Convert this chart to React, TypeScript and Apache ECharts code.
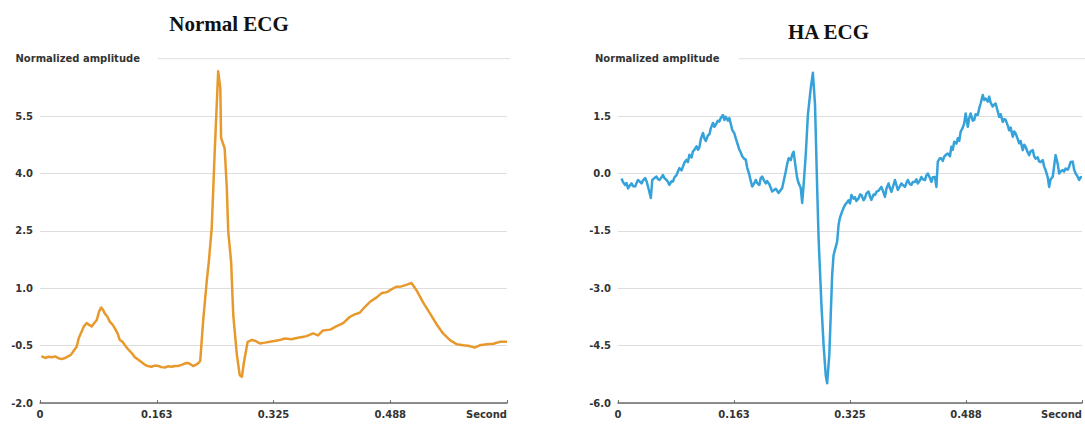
import React, { useEffect, useRef } from "react";
import * as echarts from "echarts";

// x tick labels (seconds), last tick replaced by the axis unit
const xTickLabels = ["0", "0.163", "0.325", "0.488", "Second"];
const normalYLabels = ["-2.0", "-0.5", "1.0", "2.5", "4.0", "5.5", ""];
const haYLabels = ["-6.0", "-4.5", "-3.0", "-1.5", "0.0", "1.5", ""];

// Normal ECG: [time (s), normalized amplitude]
const normalEcg: [number, number][] = [
  [0.002, -0.77], [0.007, -0.82], [0.012, -0.79], [0.017, -0.8], [0.021, -0.78], [0.025, -0.82],
  [0.03, -0.85], [0.035, -0.82], [0.039, -0.78], [0.043, -0.74], [0.046, -0.66], [0.051, -0.53],
  [0.054, -0.3], [0.058, -0.13], [0.061, 0.0], [0.065, 0.09], [0.068, 0.05], [0.072, 0.0],
  [0.075, 0.08], [0.079, 0.17], [0.082, 0.38], [0.085, 0.5], [0.088, 0.43], [0.09, 0.35],
  [0.094, 0.25], [0.097, 0.13], [0.101, 0.05], [0.104, -0.04], [0.108, -0.18], [0.111, -0.35],
  [0.115, -0.4], [0.118, -0.48], [0.122, -0.58], [0.128, -0.7], [0.132, -0.8], [0.137, -0.87],
  [0.142, -0.94], [0.146, -1.0], [0.15, -1.03], [0.155, -1.05], [0.16, -1.02], [0.165, -1.03],
  [0.169, -1.06], [0.174, -1.07], [0.178, -1.04], [0.183, -1.05], [0.188, -1.03], [0.192, -1.03],
  [0.197, -1.0], [0.202, -0.96], [0.206, -0.95], [0.209, -0.98], [0.213, -1.03], [0.217, -1.0],
  [0.22, -0.96], [0.223, -0.9], [0.227, 0.13], [0.232, 1.17], [0.235, 1.7], [0.239, 2.57],
  [0.243, 4.49], [0.246, 5.8], [0.248, 6.67], [0.251, 6.23], [0.252, 4.93], [0.257, 4.66],
  [0.26, 3.62], [0.262, 2.48], [0.266, 1.7], [0.269, 0.3], [0.274, -0.74], [0.278, -1.27],
  [0.281, -1.31], [0.284, -0.92], [0.289, -0.4], [0.295, -0.35], [0.299, -0.37], [0.306, -0.44],
  [0.313, -0.42], [0.322, -0.39], [0.332, -0.36], [0.341, -0.31], [0.35, -0.33], [0.359, -0.29],
  [0.365, -0.27], [0.371, -0.25], [0.38, -0.18], [0.387, -0.23], [0.394, -0.1], [0.404, -0.08],
  [0.413, 0.01], [0.422, 0.09], [0.431, 0.25], [0.438, 0.32], [0.445, 0.36], [0.452, 0.51],
  [0.459, 0.64], [0.469, 0.77], [0.476, 0.88], [0.483, 0.9], [0.489, 0.97], [0.496, 1.04],
  [0.503, 1.05], [0.51, 1.09], [0.517, 1.14], [0.524, 0.95], [0.533, 0.64], [0.543, 0.34],
  [0.552, 0.06], [0.561, -0.18], [0.571, -0.36], [0.58, -0.46], [0.589, -0.49], [0.598, -0.51],
  [0.605, -0.55], [0.612, -0.49], [0.622, -0.46], [0.631, -0.45], [0.64, -0.4], [0.65, -0.4],
];

// HA ECG: [time (s), normalized amplitude]
const haEcg: [number, number][] = [
  [0.005, -0.13], [0.007, -0.22], [0.01, -0.3], [0.012, -0.25], [0.014, -0.39], [0.017, -0.3],
  [0.019, -0.26], [0.021, -0.33], [0.024, -0.34], [0.026, -0.25], [0.028, -0.17], [0.031, -0.22],
  [0.033, -0.26], [0.035, -0.18], [0.038, -0.12], [0.04, -0.2], [0.042, -0.34], [0.046, -0.64],
  [0.048, -0.17], [0.051, -0.12], [0.054, -0.08], [0.056, -0.15], [0.058, -0.17], [0.061, -0.1],
  [0.063, -0.04], [0.065, -0.12], [0.068, -0.17], [0.07, -0.22], [0.072, -0.3], [0.075, -0.2],
  [0.077, -0.21], [0.079, -0.1], [0.082, -0.04], [0.084, 0.05], [0.086, 0.14], [0.089, 0.08],
  [0.091, 0.18], [0.093, 0.28], [0.096, 0.36], [0.098, 0.3], [0.1, 0.49], [0.103, 0.42],
  [0.105, 0.58], [0.107, 0.62], [0.11, 0.71], [0.112, 0.62], [0.114, 0.68], [0.116, 0.9],
  [0.119, 1.06], [0.121, 0.92], [0.123, 0.85], [0.126, 1.0], [0.128, 1.02], [0.13, 1.18],
  [0.133, 1.32], [0.135, 1.22], [0.137, 1.28], [0.14, 1.38], [0.142, 1.36], [0.144, 1.45],
  [0.147, 1.53], [0.149, 1.4], [0.151, 1.48], [0.154, 1.38], [0.156, 1.45], [0.158, 1.3],
  [0.16, 1.14], [0.163, 1.05], [0.165, 0.92], [0.167, 0.8], [0.17, 0.62], [0.172, 0.55],
  [0.174, 0.45], [0.177, 0.38], [0.179, 0.36], [0.181, 0.15], [0.184, -0.03], [0.186, -0.2],
  [0.188, -0.34], [0.191, -0.25], [0.193, -0.17], [0.195, -0.25], [0.198, -0.3], [0.2, -0.12],
  [0.202, -0.08], [0.205, -0.2], [0.207, -0.26], [0.209, -0.2], [0.212, -0.28], [0.216, -0.47],
  [0.221, -0.4], [0.225, -0.51], [0.23, -0.38], [0.235, 0.05], [0.237, 0.25], [0.239, 0.4],
  [0.242, 0.35], [0.244, 0.49], [0.246, 0.57], [0.249, 0.14], [0.251, -0.12], [0.253, -0.25],
  [0.256, -0.38], [0.258, -0.77], [0.26, -0.3], [0.263, 0.49], [0.266, 1.53], [0.27, 2.23],
  [0.273, 2.63], [0.276, 1.8], [0.279, -0.38], [0.281, -1.69], [0.285, -3.44], [0.288, -4.48],
  [0.291, -5.27], [0.293, -5.48], [0.296, -4.74], [0.298, -3.7], [0.3, -2.65], [0.302, -2.13],
  [0.307, -1.78], [0.309, -1.34], [0.311, -1.15], [0.314, -0.99], [0.316, -0.9], [0.318, -0.82],
  [0.321, -0.75], [0.323, -0.7], [0.325, -0.78], [0.327, -0.56], [0.33, -0.66], [0.332, -0.62],
  [0.334, -0.72], [0.337, -0.65], [0.339, -0.55], [0.341, -0.56], [0.344, -0.7], [0.346, -0.64],
  [0.348, -0.52], [0.351, -0.47], [0.353, -0.6], [0.355, -0.69], [0.358, -0.55], [0.36, -0.56],
  [0.362, -0.48], [0.365, -0.45], [0.367, -0.4], [0.369, -0.35], [0.372, -0.5], [0.374, -0.61],
  [0.376, -0.4], [0.379, -0.26], [0.381, -0.38], [0.383, -0.48], [0.386, -0.3], [0.388, -0.17],
  [0.39, -0.3], [0.392, -0.43], [0.395, -0.33], [0.397, -0.26], [0.399, -0.3], [0.402, -0.35],
  [0.404, -0.25], [0.406, -0.17], [0.409, -0.28], [0.411, -0.3], [0.413, -0.22], [0.416, -0.22],
  [0.418, -0.15], [0.42, -0.26], [0.423, -0.18], [0.425, -0.09], [0.427, -0.15], [0.43, -0.17],
  [0.432, -0.05], [0.434, 0.0], [0.437, -0.12], [0.439, -0.22], [0.441, -0.1], [0.444, -0.09],
  [0.446, -0.35], [0.448, 0.31], [0.451, 0.4], [0.453, 0.39], [0.455, 0.33], [0.457, 0.44],
  [0.46, 0.5], [0.462, 0.52], [0.465, 0.45], [0.467, 0.7], [0.469, 0.62], [0.471, 0.83],
  [0.474, 0.78], [0.476, 0.92], [0.478, 0.85], [0.48, 1.09], [0.483, 1.2], [0.485, 1.31],
  [0.487, 1.57], [0.49, 1.22], [0.492, 1.45], [0.494, 1.57], [0.497, 1.38], [0.499, 1.4],
  [0.501, 1.55], [0.504, 1.53], [0.506, 1.7], [0.508, 1.83], [0.511, 2.05], [0.513, 1.92],
  [0.515, 1.96], [0.518, 1.88], [0.52, 2.01], [0.522, 1.85], [0.525, 1.75], [0.527, 1.8],
  [0.529, 1.83], [0.532, 1.62], [0.534, 1.48], [0.536, 1.55], [0.539, 1.35], [0.541, 1.42],
  [0.543, 1.4], [0.546, 1.25], [0.548, 1.13], [0.55, 1.2], [0.553, 0.96], [0.555, 1.1],
  [0.557, 1.05], [0.56, 0.9], [0.562, 0.79], [0.564, 0.85], [0.567, 0.61], [0.569, 0.75],
  [0.571, 0.7], [0.574, 0.55], [0.576, 0.48], [0.578, 0.58], [0.581, 0.61], [0.583, 0.45],
  [0.585, 0.39], [0.588, 0.42], [0.59, 0.31], [0.592, 0.3], [0.595, 0.35], [0.597, 0.18],
  [0.599, 0.09], [0.602, -0.1], [0.604, -0.35], [0.606, -0.15], [0.609, -0.09], [0.611, 0.2],
  [0.613, 0.48], [0.616, 0.25], [0.618, 0.0], [0.62, 0.05], [0.623, 0.09], [0.625, 0.05],
  [0.627, 0.13], [0.63, 0.1], [0.632, 0.18], [0.634, 0.3], [0.637, 0.31], [0.639, 0.1],
  [0.641, 0.0], [0.643, -0.05], [0.646, -0.17], [0.648, -0.1], [0.65, -0.09],
];

const LABEL_FONT = "DejaVu Sans";
const AXIS_COLOR = "#6b6b6b";
const GRID_COLOR = "#dedede";

function makeXAxis(gridIndex: number) {
  return {
    gridIndex,
    type: "value",
    min: 0,
    max: 0.65,
    interval: 0.1625,
    axisLine: { show: true, onZero: false, lineStyle: { color: AXIS_COLOR, width: 1.5 } },
    axisTick: { show: true, inside: true, length: 3, lineStyle: { color: AXIS_COLOR } },
    splitLine: { show: false },
    axisLabel: {
      margin: 6,
      fontFamily: LABEL_FONT,
      fontWeight: "bold",
      fontSize: 10,
      color: "#333",
      alignMaxLabel: "right",
      showMinLabel: true,
      showMaxLabel: true,
      formatter: (v: number) => xTickLabels[Math.round(v / 0.1625)] ?? "",
    },
  };
}

function makeYAxis(gridIndex: number, min: number, max: number, labels: string[]) {
  return {
    gridIndex,
    type: "value",
    min,
    max,
    interval: 1.5,
    axisLine: { show: false },
    axisTick: { show: false },
    splitLine: { show: true, showMaxLine: false, lineStyle: { color: GRID_COLOR, width: 1 } },
    axisLabel: {
      margin: 7,
      fontFamily: LABEL_FONT,
      fontWeight: "bold",
      fontSize: 10,
      color: "#333",
      formatter: (v: number) => labels[Math.round((v - min) / 1.5)] ?? "",
    },
  };
}

export default function App() {
  const ref = useRef<HTMLDivElement>(null);

  useEffect(() => {
    if (!ref.current) return;
    const chart = echarts.init(ref.current, null, { renderer: "svg" });
    const topY = 58.7;
    const titleFont = 'bold 21px "Liberation Serif", "Times New Roman", serif';
    const nameFont = `bold 10px "${LABEL_FONT}"`;
    chart.setOption({
      animation: false,
      backgroundColor: "#ffffff",
      grid: [
        { left: 40, top: topY, width: 467, height: 344.4 },
        { left: 618, top: topY, width: 469, height: 344.4 },
      ],
      xAxis: [makeXAxis(0), makeXAxis(1)],
      yAxis: [
        makeYAxis(0, -2, 7, normalYLabels),
        makeYAxis(1, -6, 3, haYLabels),
      ],
      series: [
        {
          type: "line",
          xAxisIndex: 0,
          yAxisIndex: 0,
          data: normalEcg,
          showSymbol: false,
          lineStyle: { color: "#E8992C", width: 2.5, join: "round" },
          itemStyle: { color: "#E8992C" },
        },
        {
          type: "line",
          xAxisIndex: 1,
          yAxisIndex: 1,
          data: haEcg,
          showSymbol: false,
          lineStyle: { color: "#35A2D9", width: 2.5, join: "round" },
          itemStyle: { color: "#35A2D9" },
        },
      ],
      graphic: [
        {
          type: "line",
          silent: true,
          z: -1,
          shape: { x1: 158, y1: topY, x2: 510, y2: topY },
          style: { stroke: GRID_COLOR, lineWidth: 1 },
        },
        {
          type: "line",
          silent: true,
          z: -1,
          shape: { x1: 739, y1: topY, x2: 1085, y2: topY },
          style: { stroke: GRID_COLOR, lineWidth: 1 },
        },
        {
          type: "text",
          x: 15.5,
          y: topY,
          style: { text: "Normalized amplitude", font: nameFont, fill: "#333", align: "left", verticalAlign: "middle" },
        },
        {
          type: "text",
          x: 595,
          y: topY,
          style: { text: "Normalized amplitude", font: nameFont, fill: "#333", align: "left", verticalAlign: "middle" },
        },
        {
          type: "text",
          x: 229,
          y: 24,
          style: { text: "Normal ECG", font: titleFont, fill: "#111", align: "center", verticalAlign: "middle" },
        },
        {
          type: "text",
          x: 828.5,
          y: 32,
          style: { text: "HA ECG", font: titleFont, fill: "#111", align: "center", verticalAlign: "middle" },
        },
      ],
    });
    return () => chart.dispose();
  }, []);

  return (
    <div
      ref={ref}
      style={{ position: "absolute", left: 0, top: 0, width: 1085, height: 424, background: "#fff" }}
    />
  );
}
